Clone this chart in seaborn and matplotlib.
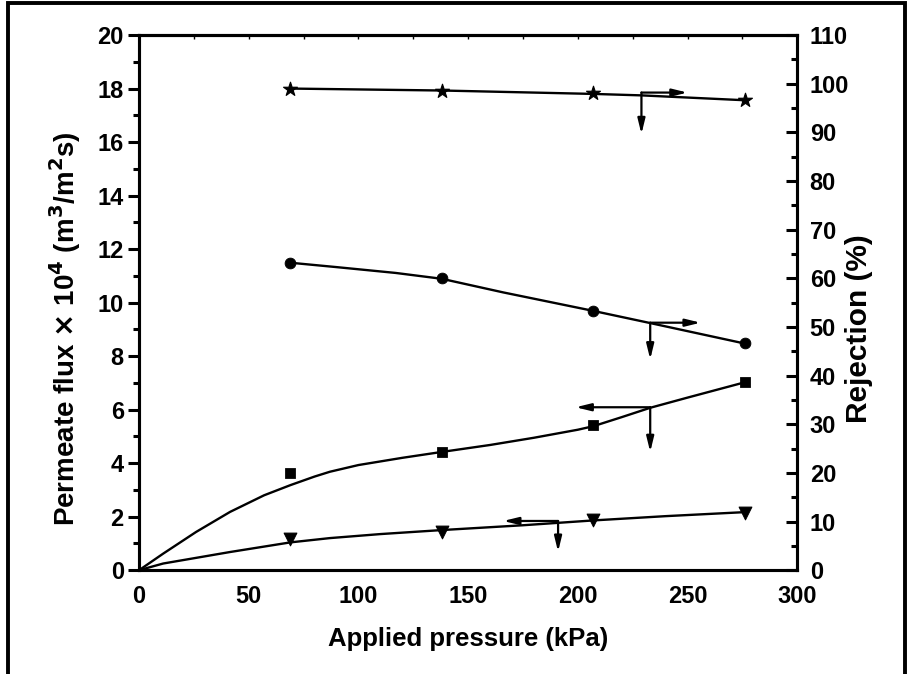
"""Permeate flux and rejection vs applied pressure (twin y axes)."""

import matplotlib.pyplot as plt
import pandas as pd
import seaborn as sns
from matplotlib.patches import Rectangle
from matplotlib.ticker import MultipleLocator


OUT = "out.png"

# measured points
PRESSURE = [69, 138, 207, 276]
FLUX_SQUARE = [3.62, 4.42, 5.42, 7.02]
FLUX_TRIANGLE = [1.18, 1.43, 1.87, 2.12]
REJ_STAR = [99.0, 98.5, 98.0, 96.6]
REJ_CIRCLE = [63.2, 60.0, 53.3, 46.6]

# fitted curves
FIT_SQ_X = [0, 11, 26, 41.5, 57, 69, 80, 87, 100, 120, 138, 160, 180, 200, 207,
            220, 233, 250, 276]
FIT_SQ_Y = [0, 0.62, 1.43, 2.18, 2.8, 3.18, 3.5, 3.68, 3.93, 4.2, 4.42, 4.68,
            4.95, 5.25, 5.38, 5.72, 6.07, 6.45, 7.02]
FIT_TR_X = [0, 11, 41.5, 69, 87, 110, 138, 175, 207, 240, 276]
FIT_TR_Y = [0, 0.25, 0.68, 1.04, 1.2, 1.35, 1.5, 1.68, 1.86, 2.02, 2.17]
FIT_ST_X = [69, 138, 207, 229, 276]
FIT_ST_Y = [99.0, 98.6, 97.9, 97.6, 96.6]
FIT_CI_X = [69, 90, 117, 138, 166, 206, 233, 276]
FIT_CI_Y = [63.2, 62.3, 61.1, 59.9, 57.1, 53.4, 50.8, 46.6]

# arrows pointing at the axis each curve belongs to: (x0, y0, x1, y1) in flux units
ARROWS = [
    (229, 17.85, 250, 17.85), (229, 17.85, 229, 16.3),
    (233, 9.25, 256, 9.25), (233, 9.25, 233, 7.88),
    (233, 6.09, 199, 6.09), (233, 6.09, 233, 4.42),
    (191, 1.84, 166, 1.84), (191, 1.84, 191, 0.69),
]


def main() -> None:
    sns.set_style("white")
    plt.rcParams["font.family"] = ["Liberation Sans", "DejaVu Sans"]
    plt.rcParams["font.weight"] = "bold"
    for key in ("text.color", "axes.labelcolor", "xtick.color", "ytick.color",
                "axes.edgecolor"):
        plt.rcParams[key] = "black"
    plt.rcParams["mathtext.default"] = "bf"

    fig = plt.figure(figsize=(9.09, 6.74), dpi=100)
    ax = fig.add_axes([0.153, 0.154, 0.724, 0.794])
    ax2 = ax.twinx()

    flux = pd.DataFrame({"p": PRESSURE, "sq": FLUX_SQUARE, "tr": FLUX_TRIANGLE})
    rej = pd.DataFrame({"p": PRESSURE, "st": REJ_STAR, "ci": REJ_CIRCLE})

    line_kw = {"color": "black", "linewidth": 1.7, "sort": False}
    sns.lineplot(x=FIT_SQ_X, y=FIT_SQ_Y, ax=ax, **line_kw)
    sns.lineplot(x=FIT_TR_X, y=FIT_TR_Y, ax=ax, **line_kw)
    sns.lineplot(x=FIT_ST_X, y=FIT_ST_Y, ax=ax2, **line_kw)
    sns.lineplot(x=FIT_CI_X, y=FIT_CI_Y, ax=ax2, **line_kw)

    sns.scatterplot(data=flux, x="p", y="sq", ax=ax, marker="s", s=50,
                    color="black", edgecolor="black", zorder=5)
    sns.scatterplot(data=flux, x="p", y="tr", ax=ax, marker="v", s=85,
                    color="black", edgecolor="black", zorder=5)
    sns.scatterplot(data=rej, x="p", y="st", ax=ax2, marker="*", s=110,
                    color="black", edgecolor="black", zorder=5)
    sns.scatterplot(data=rej, x="p", y="ci", ax=ax2, marker="o", s=60,
                    color="black", edgecolor="black", zorder=5)

    arrow = {"arrowstyle": "-|>,head_length=0.9,head_width=0.22",
             "color": "black", "lw": 1.6, "shrinkA": 0, "shrinkB": 0}
    for (x0, y0, x1, y1) in ARROWS:
        ax.annotate("", xy=(x1, y1), xytext=(x0, y0), arrowprops=arrow)

    ax.set_xlim(0, 300)
    ax.set_ylim(0, 20)
    ax2.set_ylim(0, 110)
    ax.xaxis.set_major_locator(MultipleLocator(50))
    ax.xaxis.set_minor_locator(MultipleLocator(25))
    ax.yaxis.set_major_locator(MultipleLocator(2))
    ax.yaxis.set_minor_locator(MultipleLocator(1))
    ax2.yaxis.set_major_locator(MultipleLocator(10))
    ax2.yaxis.set_minor_locator(MultipleLocator(5))

    for a in (ax, ax2):
        for spine in a.spines.values():
            spine.set_visible(True)
            spine.set_linewidth(2.2)
            spine.set_color("black")

    tick_font = 17
    ax.tick_params(axis="both", which="major", direction="out", length=8,
                   width=2.2, labelsize=tick_font, pad=3)
    ax.tick_params(axis="both", which="minor", direction="out", length=4,
                   width=2.2)
    ax2.tick_params(axis="y", which="major", direction="in", length=8,
                    width=2.2, labelsize=tick_font, pad=9)
    ax2.tick_params(axis="y", which="minor", direction="in", length=4,
                    width=2.2)

    top = ax.secondary_xaxis("top")
    top.xaxis.set_major_locator(MultipleLocator(50))
    top.xaxis.set_minor_locator(MultipleLocator(25))
    top.tick_params(which="both", direction="in", length=3, width=1,
                    labeltop=False)
    top.spines["top"].set_linewidth(2.2)

    for lbl in ax.get_xticklabels() + ax.get_yticklabels() + ax2.get_yticklabels():
        lbl.set_fontweight("bold")

    ax.set_xlabel("Applied pressure (kPa)", fontsize=18.5, fontweight="bold",
                  labelpad=13)
    ax.set_ylabel(r"Permeate flux $\times$ 10$^{4}$ (m$^{3}$/m$^{2}$s)",
                  fontsize=20, fontweight="bold")
    ax.yaxis.set_label_coords(-0.085, 0.452)
    ax2.set_ylabel("Rejection (%)", fontsize=21.5, fontweight="bold")
    ax2.yaxis.set_label_coords(1.073, 0.452)

    fig.patches.append(Rectangle((0.009, -0.05), 0.987, 1.045, fill=False,
                                 edgecolor="black", linewidth=2.8,
                                 transform=fig.transFigure, figure=fig))

    fig.savefig(OUT, dpi=100)
    plt.close(fig)


if __name__ == "__main__":
    main()
